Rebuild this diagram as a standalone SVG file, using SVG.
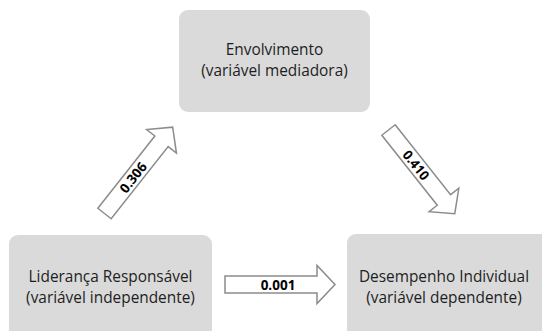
<svg xmlns="http://www.w3.org/2000/svg" width="542" height="331" viewBox="0 0 542 331">
<style>
.box{fill:#dadada;}
.t{font-family:"Open Sans","Liberation Sans",sans-serif;font-size:15.4px;fill:#1e1e1e;text-anchor:middle;}
.arr{fill:#fff;stroke:#8c8c8c;stroke-width:1.5;stroke-linejoin:miter;}
.lbl{font-family:"Open Sans","Liberation Sans",sans-serif;font-size:13.5px;font-weight:bold;fill:#000;text-anchor:middle;}
</style>
<defs>
<path id="arrow" d="M0,-8.5 L92,-8.5 L92,-19 L110,0 L92,19 L92,8.5 L0,8.5 Z"/>
</defs>
<rect width="542" height="331" fill="#fff"/>
<g id="envolvimento">
<rect class="box" x="179" y="10" width="191" height="102" rx="9"/>
<text class="t" x="274.5" y="55">Envolvimento</text>
<text class="t" x="274.5" y="76">(variável mediadora)</text>
</g>
<g id="lideranca">
<rect class="box" x="9" y="235" width="203" height="106" rx="9"/>
<text class="t" x="110.5" y="282">Liderança Responsável</text>
<text class="t" x="110.5" y="303">(variável independente)</text>
</g>
<g id="desempenho">
<rect class="box" x="347" y="234" width="205" height="107" rx="9"/>
<text class="t" x="444" y="282">Desempenho Individual</text>
<text class="t" x="444" y="303">(variável dependente)</text>
</g>
<g id="connectors">
<g transform="translate(104.5,213.5) rotate(-51.7)">
<use href="#arrow" class="arr"/>
<text class="lbl" x="46" y="5">0.306</text>
</g>
<g transform="translate(388.5,130) rotate(51.6) scale(0.97,1)">
<use href="#arrow" class="arr"/>
<text class="lbl" x="46" y="5">0.410</text>
</g>
<g transform="translate(225,284.5)">
<use href="#arrow" class="arr"/>
<text class="lbl" x="53" y="5">0.001</text>
</g>
</g>
</svg>
